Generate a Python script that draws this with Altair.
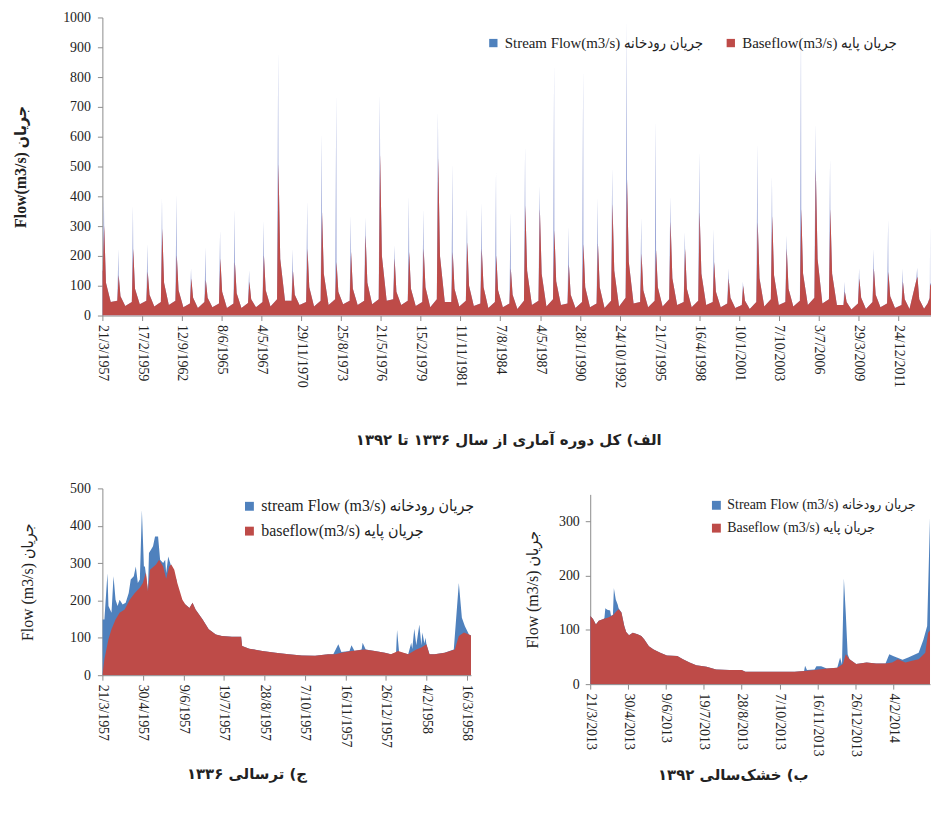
import json
import altair as alt
import pandas as pd

# ---------------- data ----------------
# Top panel: one entry per hydrological year 1957..2013 (day index 0 = 21/3/1957)
YEARS = list(range(1957, 2014))
STREAM_PEAK = [402, 224, 369, 241, 397, 408, 158, 230, 286, 358,
               152, 319, 891, 224, 386, 613, 745, 336, 330, 747,
               236, 402, 358, 686, 513, 358, 380, 486, 347, 569,
               436, 847, 300, 830, 397, 497, 997, 330, 658, 400,
               280, 552, 291, 158, 113, 580, 469, 269, 991, 647,
               527, 113, 158, 224, 324, 158, 160]
BASE_PEAK = [302, 135, 224, 147, 291, 202, 124, 119, 191, 180,
             113, 202, 510, 150, 224, 347, 180, 213, 269, 541,
             191, 213, 224, 530, 213, 247, 224, 202, 158, 369,
             358, 286, 170, 240, 241, 375, 458, 208, 220, 315,
             224, 347, 180, 124, 100, 313, 335, 224, 358, 491,
             358, 80, 124, 158, 147, 113, 130]
BASE_DECAY = [110, 65, 90, 70, 110, 85, 60, 60, 80, 75,
              55, 85, 190, 70, 95, 140, 80, 90, 110, 200,
              80, 90, 95, 200, 90, 100, 95, 85, 70, 150,
              140, 115, 70, 95, 95, 150, 180, 85, 95, 125,
              90, 140, 80, 60, 50, 125, 135, 90, 140, 190,
              140, 45, 60, 70, 65, 55, 55]
BASE_TROUGH = [45, 32, 38, 30, 35, 28, 25, 28, 25, 25,
               28, 30, 50, 35, 30, 35, 38, 35, 38, 50,
               35, 32, 28, 45, 30, 32, 25, 28, 22, 35,
               30, 35, 25, 28, 25, 30, 40, 28, 30, 35,
               28, 35, 28, 25, 22, 30, 35, 30, 35, 40,
               35, 20, 22, 28, 25, 22, 23]
BASE_WINTER = [150, 50, 45, 50, 45, 50, 40, 45, 40, 40,
               42, 45, 55, 50, 45, 50, 55, 50, 50, 55,
               55, 50, 45, 55, 45, 50, 40, 45, 40, 50,
               50, 55, 40, 45, 40, 50, 60, 45, 50, 55,
               45, 50, 45, 40, 35, 45, 55, 45, 50, 60,
               55, 35, 40, 45, 40, 35, 115]
# day offsets inside a year for winter / stream peak / base peak / decay / trough
OFF_WINTER, OFF_SPIKE, OFF_PEAK, OFF_DECAY, OFF_TROUGH = 10, 38, 45, 90, 210
YEAR_LEN = 365
# end of record (spring 2014)
END_BASE_DAYS = [20740, 20790, 20802, 20825]
END_BASE_VALS = [40, 58, 100, 105]
END_STREAM_DAYS = [20740, 20790, 20797, 20802, 20806, 20825]
END_STREAM_VALS = [40, 60, 107, 310, 110, 105]
TOP_TICKS = ["21/3/1957", "17/2/1959", "12/9/1962", "8/6/1965", "4/5/1967",
             "29/11/1970", "25/8/1973", "21/5/1976", "15/2/1979", "11/11/1981",
             "7/8/1984", "4/5/1987", "28/1/1990", "24/10/1992", "21/7/1995",
             "16/4/1998", "10/1/2001", "7/10/2003", "3/7/2006", "29/3/2009",
             "24/12/2011"]

# Bottom-left panel: wet year 1957-58 (day 0 = 21/3/1957)
WET_BASE_DAYS = [0, 2, 6, 9, 13, 17, 22, 27, 32, 37, 40, 43, 45, 47, 53, 56, 60, 63, 66, 68,
                 71, 74, 79, 82, 86, 89, 92, 99, 105, 112, 118, 128, 137, 138, 145, 158, 171,
                 184, 197, 210, 223, 230, 236, 246, 259, 269, 279, 285, 292, 302, 310, 315,
                 320, 323, 328, 338, 348, 352, 357, 362, 365]
WET_BASE_VALS = [0, 43, 96, 123, 149, 167, 176, 202, 220, 234, 247, 275, 225, 282, 296, 309, 291,
                 258, 291, 296, 282, 247, 202, 189, 180, 194, 176, 149, 123, 109, 105, 103, 103,
                 78, 71, 65, 60, 56, 53, 52, 56, 56, 60, 65, 69, 65, 60, 56, 65, 56, 69, 74, 83,
                 56, 56, 60, 69, 105, 114, 109, 105]
WET_STREAM_DAYS = [0, 2, 5, 6, 9, 11, 13, 15, 17, 20, 23, 26, 28, 31, 33, 35, 37, 39, 41, 42, 45,
                   46, 48, 50, 52, 55, 57, 60, 62, 63, 65, 68, 70, 73, 76, 79, 82, 86, 89, 92, 99,
                   105, 112, 118, 128, 137, 138, 145, 158, 171, 184, 197, 210, 223, 228, 233, 236,
                   244, 246, 249, 256, 257, 260, 269, 279, 285, 290, 291, 293, 302, 305, 306, 308,
                   310, 313, 315, 316, 318, 319, 320, 323, 328, 338, 347, 352, 355, 358, 362, 365]
WET_STREAM_VALS = [149, 149, 273, 185, 167, 265, 202, 185, 202, 189, 194, 220, 256, 265, 291, 247,
                   256, 442, 291, 291, 225, 327, 336, 345, 371, 371, 309, 300, 309, 273, 318, 291,
                   273, 256, 202, 194, 189, 180, 194, 176, 149, 123, 109, 105, 103, 103, 78, 71,
                   65, 60, 56, 53, 52, 56, 56, 83, 62, 65, 80, 65, 69, 87, 69, 65, 60, 56, 60, 121,
                   62, 56, 87, 70, 124, 80, 136, 80, 114, 85, 100, 83, 56, 56, 60, 69, 247, 154,
                   131, 109, 105]
WET_TICKS = ["21/3/1957", "30/4/1957", "9/6/1957", "19/7/1957", "28/8/1957",
             "7/10/1957", "16/11/1957", "26/12/1957", "4/2/1958", "16/3/1958"]

# Bottom-right panel: dry year 2013-14 (day 0 = 21/3/2013)
DRY_BASE_DAYS = [0, 3, 6, 9, 14, 19, 24, 28, 30, 33, 36, 38, 41, 45, 50, 54, 57, 62, 67, 74, 81,
                 92, 98, 105, 112, 123, 133, 147, 160, 164, 181, 199, 216, 226, 237, 250, 261,
                 267, 270, 274, 281, 292, 302, 312, 319, 325, 333, 340, 347, 354, 357, 360, 364]
DRY_BASE_VALS = [126, 120, 110, 117, 120, 123, 127, 135, 138, 132, 107, 96, 90, 95, 92, 89, 83,
                 70, 64, 58, 53, 52, 46, 40, 35, 32, 27, 26, 26, 23, 23, 23, 23, 24, 26, 29, 30,
                 37, 55, 46, 37, 40, 38, 38, 40, 46, 40, 43, 46, 58, 95, 101, 105]
DRY_STREAM_DAYS = [0, 3, 6, 9, 14, 15, 16, 18, 21, 22, 24, 25, 27, 29, 30, 33, 36, 38, 41, 45, 50,
                   54, 57, 62, 67, 74, 81, 92, 98, 105, 112, 123, 133, 147, 160, 164, 181, 199,
                   216, 226, 227, 229, 237, 239, 244, 250, 261, 264, 266, 268, 270, 272, 274, 281,
                   292, 302, 312, 316, 320, 324, 330, 336, 347, 352, 356, 359, 361, 364]
DRY_STREAM_VALS = [126, 120, 110, 117, 120, 122, 140, 137, 136, 126, 128, 177, 156, 147, 140, 132,
                   107, 96, 90, 95, 92, 89, 83, 70, 64, 58, 53, 52, 46, 40, 35, 32, 27, 26, 26, 23,
                   23, 23, 23, 24, 34, 26, 27, 33, 33, 29, 30, 49, 36, 195, 131, 55, 46, 37, 40,
                   38, 38, 55, 52, 49, 45, 49, 58, 82, 107, 308, 110, 105]
DRY_TICKS = ["21/3/2013", "30/4/2013", "9/6/2013", "19/7/2013", "28/8/2013",
             "7/10/2013", "16/11/2013", "26/12/2013", "4/2/2014", "16/3/2014"]

# texts
TOP_LEG = ["Stream Flow(m3/s)  جریان رودخانه", "Baseflow(m3/s) جریان پایه"]
WET_LEG = ["stream Flow (m3/s) جریان رودخانه", "baseflow(m3/s) جریان پایه"]
DRY_LEG = ["Stream Flow (m3/s) جریان رودخانه", "Baseflow (m3/s) جریان پایه"]
TOP_YTITLE = "Flow(m3/s)  جریان"
BOT_YTITLE = "Flow (m3/s)  جریان"
TITLE_A = "الف) کل دوره آماری از سال ۱۳۳۶ تا ۱۳۹۲"
TITLE_C = "ج) ترسالی ۱۳۳۶"
TITLE_B = "ب) خشک\u200cسالی ۱۳۹۲"

# ---------------- styles ----------------
BLUE = "#4F81BD"
RED = "#BE4B48"
TOP_STREAM_FILL = "#97A3D6"
SERIF = "Liberation Serif, DejaVu Sans Condensed, DejaVu Sans"
PERSIAN = "DejaVu Sans"
AXIS_GRAY = "#8c8c8c"
TXT = "#222222"

# ---------------- build top series ----------------
top_base_rows = [(0, BASE_WINTER[0])]
top_stream_rows = [(0, BASE_WINTER[0])]
for i in range(len(YEARS)):
    s = i * YEAR_LEN
    top_base_rows += [(s + OFF_WINTER, BASE_WINTER[i]), (s + OFF_PEAK, BASE_PEAK[i]),
                      (s + OFF_DECAY, BASE_DECAY[i]), (s + OFF_TROUGH, BASE_TROUGH[i])]
    top_stream_rows += [(s + OFF_WINTER, BASE_WINTER[i]), (s + OFF_SPIKE, STREAM_PEAK[i]),
                        (s + OFF_PEAK, BASE_PEAK[i]), (s + OFF_DECAY, BASE_DECAY[i]),
                        (s + OFF_TROUGH, BASE_TROUGH[i])]
top_base_rows += list(zip(END_BASE_DAYS, END_BASE_VALS))
top_stream_rows += list(zip(END_STREAM_DAYS, END_STREAM_VALS))
top_base = pd.DataFrame(top_base_rows, columns=["day", "flow"])
top_stream = pd.DataFrame(top_stream_rows, columns=["day", "flow"])


def label_expr(ticks, step):
    return json.dumps(ticks) + "[round(datum.value/" + str(step) + ")]"


def panel(base_df, stream_df, stream_fill, legend_labels, legend_cfg, ticks, step,
          xmax, ymax, ystep, width, height, ytitle, ytitle_cfg, title, title_cfg):
    xvals = [i * step for i in range(len(ticks)) if i * step <= xmax]
    yvals = [v for v in range(0, ymax + 1, ystep)]
    xenc = alt.X("day:Q", scale=alt.Scale(domain=[0, xmax], nice=False, zero=False),
                 axis=alt.Axis(values=xvals, tickCount=len(xvals),
                               labelExpr=label_expr(ticks, step), labelAngle=90,
                               labelPadding=4, tickSize=5, grid=False, title=None,
                               labelFontSize=14, labelBound=False, labelOverlap=False))
    yenc = alt.Y("flow:Q", scale=alt.Scale(domain=[0, ymax], nice=False),
                 axis=alt.Axis(values=yvals, tickCount=len(yvals), tickSize=5, grid=False,
                               title=ytitle, format="d", labelFontSize=14,
                               labelOverlap=False, labelSeparation=0, **ytitle_cfg))
    stream = alt.Chart(stream_df).mark_area(color=stream_fill, interpolate="linear",
                                            clip=True).encode(x=xenc, y=yenc)
    base = alt.Chart(base_df).mark_area(color=RED, interpolate="linear",
                                        clip=True).encode(x=xenc, y=yenc)
    leg_df = pd.DataFrame({"series": legend_labels, "v": [0, 0]})
    legend = alt.Chart(leg_df).mark_square(size=70, opacity=1).encode(
        color=alt.Color("series:N",
                        scale=alt.Scale(domain=legend_labels, range=[BLUE, RED]),
                        legend=alt.Legend(title=None, orient="none", symbolType="square",
                                          labelFont=SERIF, labelColor=TXT, labelLimit=500,
                                          symbolStrokeWidth=0, **legend_cfg))
    ).transform_filter("datum.v > 1")
    return alt.layer(stream, base, legend).properties(
        width=width, height=height,
        title=alt.TitleParams(title, orient="bottom", anchor="middle", frame="group",
                              font=PERSIAN, fontWeight="bold", color=TXT, **title_cfg))


top = panel(top_base, top_stream, TOP_STREAM_FILL, TOP_LEG,
            dict(legendX=386, legendY=18, direction="horizontal", labelFontSize=15,
                 symbolSize=70, columnPadding=16),
            TOP_TICKS, 1000, 20825, 1000, 100, 834, 300,
            TOP_YTITLE, dict(titleFont=SERIF, titleFontSize=16, titleFontWeight="bold",
                             titlePadding=34, titleColor=TXT, labelPadding=7),
            TITLE_A, dict(fontSize=15, offset=46, dx=-8))

wet_base = pd.DataFrame({"day": WET_BASE_DAYS, "flow": WET_BASE_VALS})
wet_stream = pd.DataFrame({"day": WET_STREAM_DAYS, "flow": WET_STREAM_VALS})
wet = panel(wet_base, wet_stream, BLUE, WET_LEG,
            dict(legendX=140, legendY=10, direction="vertical", labelFontSize=16,
                 symbolSize=80, rowPadding=9),
            WET_TICKS, 40, 364, 500, 100, 371, 188,
            BOT_YTITLE, dict(titleFont=SERIF, titleFontSize=16, titleFontWeight="normal",
                             titlePadding=34, titleColor=TXT, labelPadding=7),
            TITLE_C, dict(fontSize=15, offset=20, dx=-40))

dry_base = pd.DataFrame({"day": DRY_BASE_DAYS, "flow": DRY_BASE_VALS})
dry_stream = pd.DataFrame({"day": DRY_STREAM_DAYS, "flow": DRY_STREAM_VALS})
dry = panel(dry_base, dry_stream, BLUE, DRY_LEG,
            dict(legendX=120, legendY=4, direction="vertical", labelFontSize=14,
                 symbolSize=80, rowPadding=9),
            DRY_TICKS, 40, 359, 350, 100, 342, 191,
            BOT_YTITLE, dict(titleFont=SERIF, titleFontSize=16, titleFontWeight="normal",
                             titlePadding=18, titleColor=TXT, labelPadding=6),
            TITLE_B, dict(fontSize=15, offset=12, dx=-27))

spacer = alt.Chart(pd.DataFrame({"t": [""]})).mark_text().encode(text="t:N").properties(
    width=342, height=6)
dry_col = alt.vconcat(spacer, dry, spacing=0, bounds="flush").resolve_scale(
    color="independent", x="independent", y="independent").resolve_legend(color="independent")

bottom = alt.hconcat(wet, dry_col, spacing=120, bounds="flush").resolve_scale(
    color="independent", x="independent", y="independent").resolve_legend(color="independent")
chart = alt.vconcat(top, bottom, spacing=174, bounds="flush").resolve_scale(
    color="independent", x="independent", y="independent").resolve_legend(
    color="independent").properties(
    padding={"left": 5, "top": 0, "right": 0, "bottom": 0}
).configure_view(stroke=None).configure_axis(
    labelFont=SERIF, labelColor=TXT, domainColor=AXIS_GRAY, tickColor=AXIS_GRAY
).configure_title(font=PERSIAN)

chart.save("out.html", embed_options={"renderer": "svg", "actions": False})
